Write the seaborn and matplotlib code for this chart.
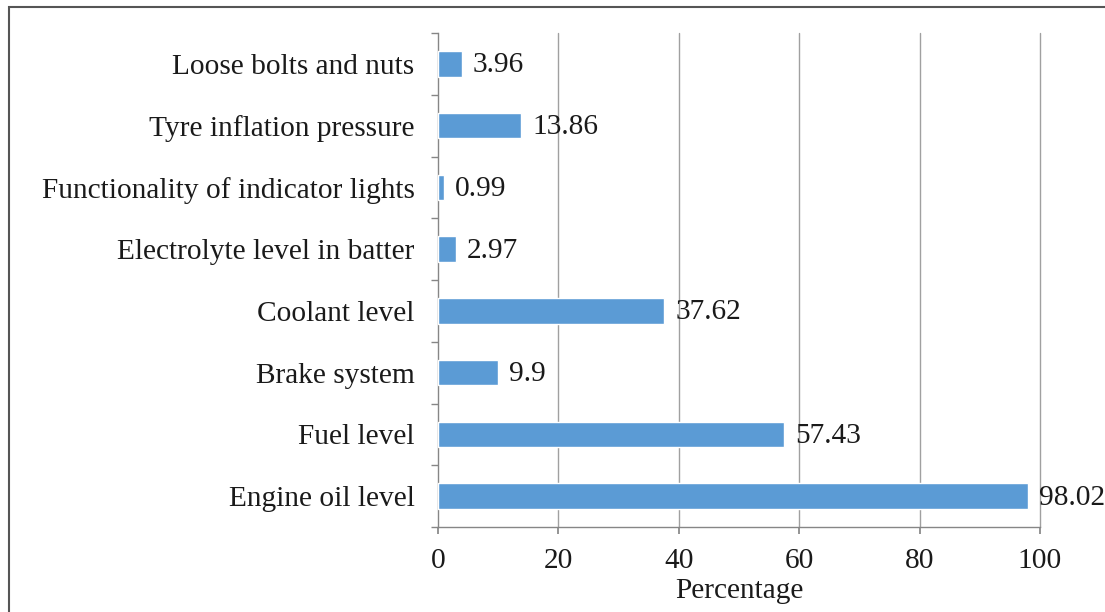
import numpy as np
import pandas as pd
import matplotlib
matplotlib.use("Agg")
import matplotlib.pyplot as plt
import seaborn as sns
from matplotlib.patches import Rectangle

# data, top to bottom as in the chart
checks = ['Loose bolts and nuts', 'Tyre inflation pressure',
          'Functionality of indicator lights', 'Electrolyte level in batter',
          'Coolant level', 'Brake system', 'Fuel level', 'Engine oil level']
percent = [3.96, 13.86, 0.99, 2.97, 37.62, 9.9, 57.43, 98.02]
value_labels = ['3.96', '13.86', '0.99', '2.97', '37.62', '9.9', '57.43', '98.02']

df = pd.DataFrame({'Check': checks, 'Percentage': percent})

sns.set_theme(style="white")
plt.rcParams['font.family'] = ['Liberation Serif', 'DejaVu Serif']

FS = 21.2
txt_c = '#1a1a1a'
axis_c = '#868686'

fig = plt.figure(figsize=(11.05, 6.12), dpi=100)
ax = fig.add_axes([438 / 1105, 1 - 527 / 612, 602 / 1105, 494 / 612])

sns.barplot(data=df, x='Percentage', y='Check', orient='h', color='#5B9BD5',
            saturation=1, width=0.41, ax=ax, zorder=3)

ax.set_xlim(0, 100)
ax.set_xticks(np.arange(0, 101, 20))
ax.set_ylim(len(checks) - 0.5, -0.5)
ax.set_ylabel('')
ax.set_xlabel('Percentage', fontsize=FS, color=txt_c, labelpad=3)

for x in np.arange(20, 101, 20):
    ax.axvline(x, color='#a0a0a0', lw=1, zorder=1, clip_on=False)

for side in ['top', 'right']:
    ax.spines[side].set_visible(False)
for side in ['left', 'bottom']:
    ax.spines[side].set_color(axis_c)
    ax.spines[side].set_linewidth(1)

# y ticks at category boundaries
ax.set_yticks(np.arange(-0.5, len(checks), 1), minor=True)
ax.tick_params(axis='y', which='minor', left=True, length=5, color=axis_c)
ax.tick_params(axis='y', which='major', left=False, length=0, labelsize=FS,
               labelcolor=txt_c, pad=17)
ax.tick_params(axis='x', bottom=True, length=5, color=axis_c,
               labelsize=FS, labelcolor=txt_c, pad=10)

for patch, lab in zip(ax.patches, value_labels):
    w = patch.get_width()
    yc = patch.get_y() + patch.get_height() / 2
    ax.annotate(lab, (w, yc), xytext=(8, -1), textcoords='offset points',
                va='center', ha='left', fontsize=FS, color=txt_c,
                annotation_clip=False)

# thin frame around the figure (left and top edges visible)
fig.patches.append(Rectangle((9 / 1105, -0.1), 1.2, 0.1 + (1 - 7 / 612),
                             transform=fig.transFigure, fill=False,
                             edgecolor='#555555', lw=1.5))

fig.savefig('out.png', dpi=100, facecolor='white')
